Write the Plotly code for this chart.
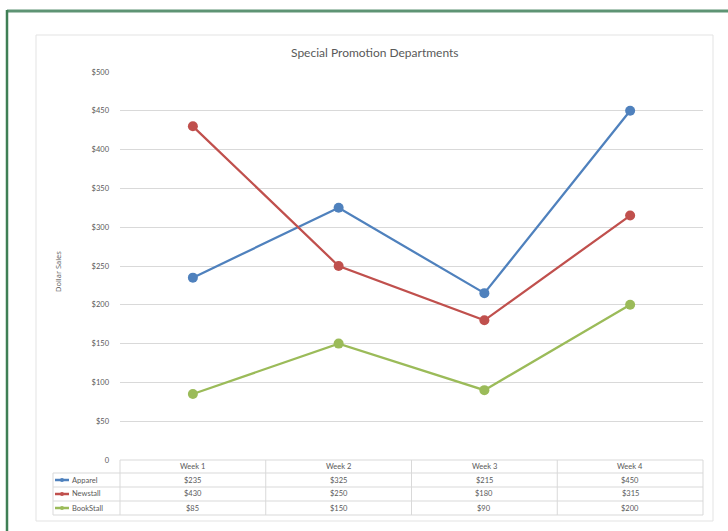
import plotly.graph_objects as go

# ---- data ----
weeks = ["Week 1", "Week 2", "Week 3", "Week 4"]
series_names = ["Apparel", "Newstall", "BookStall"]
apparel = [235, 325, 215, 450]
newstall = [430, 250, 180, 315]
bookstall = [85, 150, 90, 200]
y_ticks = [0, 50, 100, 150, 200, 250, 300, 350, 400, 450, 500]
y_tick_labels = ["0", "$50", "$100", "$150", "$200", "$250", "$300", "$350", "$400", "$450", "$500"]
title = "Special Promotion Departments"
y_title = "Dollar Sales"

values = [apparel, newstall, bookstall]
colors = ["#4F81BD", "#C0504D", "#9BBB59"]

W, H = 728, 531
L, R, T, B = 120, 703, 72, 460  # plot area in px


def px(xp):
    return (xp - L) / (R - L)


def py(yp):
    return (B - yp) / (B - T)


FONT = "Lato, 'Open Sans', sans-serif"
TXT = "#595959"
SMALL = 7.5

fig = go.Figure()
for name, vals, c in zip(series_names, values, colors):
    fig.add_trace(go.Scatter(
        x=weeks, y=vals, name=name, mode="lines+markers",
        line=dict(color=c, width=2.25),
        marker=dict(color=c, size=10, symbol="circle"),
        showlegend=False, cliponaxis=False,
    ))

shapes = []
# outer green border (top + left)
shapes.append(dict(type="line", xref="paper", yref="paper", x0=px(7), x1=px(730), y0=py(11), y1=py(11),
                   line=dict(color="#5E9474", width=3)))
shapes.append(dict(type="line", xref="paper", yref="paper", x0=px(7), x1=px(7), y0=py(10), y1=py(535),
                   line=dict(color="#3F7F55", width=2.5)))
# chart frame
shapes.append(dict(type="rect", xref="paper", yref="paper", x0=px(36), x1=px(713), y0=py(35), y1=py(521),
                   line=dict(color="#E3E3E3", width=1), layer="below"))

# data table
row_lines = [460, 473, 487, 501, 515]
tbl_left = 53
for i, yl in enumerate(row_lines):
    x0 = L if i == 0 else tbl_left
    shapes.append(dict(type="line", xref="paper", yref="paper", x0=px(x0), x1=px(R), y0=py(yl), y1=py(yl),
                       line=dict(color="#D9D9D9", width=1)))
for k in range(len(weeks) + 1):
    xv = k / len(weeks)
    shapes.append(dict(type="line", xref="paper", yref="paper", x0=xv, x1=xv, y0=py(460), y1=py(515),
                       line=dict(color="#D9D9D9", width=1)))
shapes.append(dict(type="line", xref="paper", yref="paper", x0=px(tbl_left), x1=px(tbl_left), y0=py(473), y1=py(515),
                   line=dict(color="#D9D9D9", width=1)))

annotations = []
# header row
for w in weeks:
    annotations.append(dict(x=w, xref="x", y=py(466.5), yref="paper", text=w, showarrow=False,
                            font=dict(family=FONT, size=SMALL, color=TXT), xanchor="center", yanchor="middle"))
row_centers = [480, 494, 508]
for name, vals, c, yc in zip(series_names, values, colors, row_centers):
    # legend key
    shapes.append(dict(type="line", xref="paper", yref="paper", x0=px(55), x1=px(69), y0=py(yc), y1=py(yc),
                       line=dict(color=c, width=2.5)))
    shapes.append(dict(type="circle", xref="paper", yref="paper", x0=px(60), x1=px(64),
                       y0=py(yc + 2), y1=py(yc - 2), fillcolor=c, line=dict(color=c, width=0)))
    annotations.append(dict(x=px(69.5), xref="paper", y=py(yc), yref="paper", text=name, showarrow=False,
                            font=dict(family=FONT, size=SMALL, color=TXT), xanchor="left", yanchor="middle"))
    for w, v in zip(weeks, vals):
        annotations.append(dict(x=w, xref="x", y=py(yc), yref="paper", text=f"${v}", showarrow=False,
                                font=dict(family=FONT, size=SMALL, color=TXT), xanchor="center", yanchor="middle"))

# y-axis title
annotations.append(dict(x=px(58), xref="paper", y=py(272), yref="paper", text=y_title, textangle=-90,
                        showarrow=False, font=dict(family="'Open Sans', sans-serif", size=7.5, color=TXT),
                        xanchor="center", yanchor="middle"))
# chart title
annotations.append(dict(x=px(375), xref="paper", y=py(53), yref="paper", text=title, showarrow=False,
                        font=dict(family=FONT, size=12, color=TXT), xanchor="center", yanchor="middle"))

fig.update_layout(
    width=W, height=H,
    margin=dict(l=L, r=W - R, t=T, b=H - B, pad=0),
    paper_bgcolor="white", plot_bgcolor="white",
    shapes=shapes, annotations=annotations,
    xaxis=dict(type="category", range=[-0.5, 3.5], showticklabels=False, showgrid=False,
               zeroline=False, showline=False, ticks=""),
    yaxis=dict(range=[0, 500], tickvals=y_ticks, ticktext=y_tick_labels,
               tickfont=dict(family=FONT, size=SMALL, color=TXT), showgrid=True, gridcolor="#D9D9D9",
               gridwidth=1, zeroline=False, showline=False, ticks="", ticklabelstandoff=10),
    font=dict(family=FONT),
)

fig.write_html("out.html")
